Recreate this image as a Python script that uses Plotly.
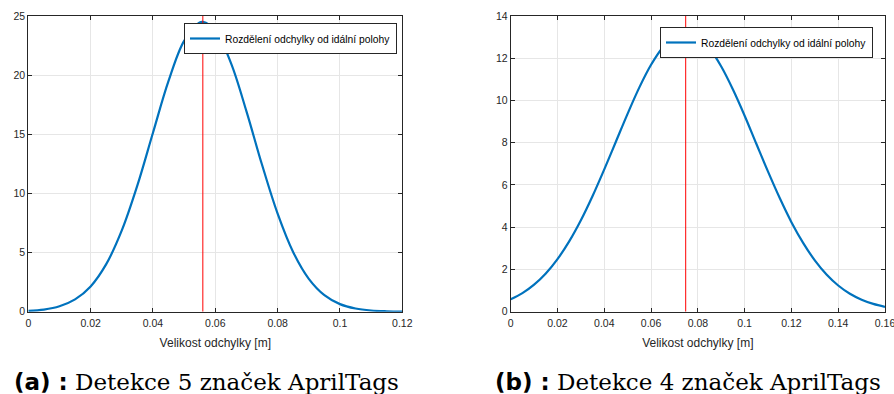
import plotly.graph_objects as go

# Panel (a): detection of 5 tags
x_a = [0.000, 0.005, 0.010, 0.015, 0.020, 0.025, 0.030, 0.035, 0.040, 0.045, 0.050, 0.055, 0.056, 0.060,
       0.065, 0.070, 0.075, 0.080, 0.085, 0.090, 0.095, 0.100, 0.105, 0.110, 0.115, 0.120]
y_a = [0.07, 0.18, 0.46, 1.04, 2.14, 4.02, 6.87, 10.68, 15.13, 19.51, 22.90, 24.45, 24.50, 23.77,
       21.04, 16.94, 12.42, 8.29, 5.03, 2.78, 1.40, 0.64, 0.27, 0.10, 0.035, 0.011]
mean_a = 0.056
ytop_a = 25

# Panel (b): detection of 4 tags
x_b = [0.000, 0.005, 0.010, 0.015, 0.020, 0.025, 0.030, 0.035, 0.040, 0.045, 0.050, 0.055, 0.060,
       0.065, 0.070, 0.075, 0.080, 0.085, 0.090, 0.095, 0.100, 0.105, 0.110, 0.115, 0.120,
       0.125, 0.130, 0.135, 0.140, 0.145, 0.150, 0.155, 0.160]
y_b = [0.59, 0.88, 1.28, 1.81, 2.49, 3.33, 4.33, 5.48, 6.74, 8.06, 9.38, 10.62, 11.69,
       12.51, 13.03, 13.20, 13.00, 12.46, 11.61, 10.52, 9.28, 7.95, 6.63, 5.38, 4.24,
       3.26, 2.43, 1.76, 1.24, 0.85, 0.57, 0.37, 0.23]
mean_b = 0.0748
ytop_b = 14

legend_name = "Rozdělení odchylky od idální polohy"
captions = ["(a) :", "(b) :"]
caption_texts = ["Detekce 5 značek AprilTags", "Detekce 4 značek AprilTags"]
xlabel = "Velikost odchylky [m]"

BLUE = "#0072BD"
AX = "#262626"
GRID = "#e6e6e6"
W, H = 894, 394

fig = go.Figure()
fig.add_trace(go.Scatter(x=x_a, y=y_a, mode="lines", name=legend_name, line=dict(color=BLUE, width=2.2, shape="spline"),
                         xaxis="x", yaxis="y", legend="legend"))
fig.add_trace(go.Scatter(x=[mean_a, mean_a], y=[0, ytop_a], mode="lines", showlegend=False,
                         line=dict(color="#ff0000", width=1), xaxis="x", yaxis="y"))
fig.add_trace(go.Scatter(x=x_b, y=y_b, mode="lines", name=legend_name, line=dict(color=BLUE, width=2.2, shape="spline"),
                         xaxis="x2", yaxis="y2", legend="legend2"))
fig.add_trace(go.Scatter(x=[mean_b, mean_b], y=[0, ytop_b], mode="lines", showlegend=False,
                         line=dict(color="#ff0000", width=1), xaxis="x2", yaxis="y2"))

def px_x(p):
    return p / W

def px_y(p):
    return (H - p) / H

tickfont = dict(family="Liberation Sans, Arial", size=10.5, color=AX)
axcommon = dict(showline=True, linecolor=AX, linewidth=1, mirror="ticks", ticks="inside", ticklen=4,
                tickcolor=AX, showgrid=True, gridcolor=GRID, gridwidth=1, zeroline=False, tickfont=tickfont,
                automargin=False, ticklabeloverflow="allow")
xtitle = dict(text=xlabel, font=dict(family="Liberation Sans, Arial", size=12, color=AX), standoff=10)

fig.update_layout(
    width=W, height=H, margin=dict(l=0, r=0, t=0, b=0),
    paper_bgcolor="white", plot_bgcolor="white",
    xaxis=dict(domain=[px_x(28.3), px_x(402.3)], range=[0, 0.12], dtick=0.02, anchor="y", title=xtitle,
               ticklabelstandoff=2, **axcommon),
    yaxis=dict(domain=[px_y(311.7), px_y(16)], range=[0, 25], dtick=5, anchor="x", **axcommon),
    xaxis2=dict(domain=[px_x(510.7), px_x(885)], range=[0, 0.16], dtick=0.02, anchor="y2", title=xtitle,
                ticklabelstandoff=2, **axcommon),
    yaxis2=dict(domain=[px_y(311.7), px_y(16)], range=[0, 14], dtick=2, anchor="x2", **axcommon),
    legend=dict(x=px_x(397), y=px_y(23), xanchor="right", yanchor="top", bgcolor="white",
                bordercolor=AX, borderwidth=1, font=dict(family="Liberation Sans, Arial", size=10.3, color="#000"),
                itemwidth=30, tracegroupgap=0),
    legend2=dict(x=px_x(873), y=px_y(27), xanchor="right", yanchor="top", bgcolor="white",
                 bordercolor=AX, borderwidth=1, font=dict(family="Liberation Sans, Arial", size=10.3, color="#000"),
                 itemwidth=30, tracegroupgap=0),
    showlegend=True,
)

cap_x = [px_x(206), px_x(688)]
for cx, lab, txt in zip(cap_x, captions, caption_texts):
    fig.add_annotation(
        x=cx, y=px_y(381.5), xref="paper", yref="paper", xanchor="center", yanchor="middle", showarrow=False,
        text=f"<span style='font-family:DejaVu Sans;font-weight:bold'>{lab}</span> {txt}",
        font=dict(family="DejaVu Serif", size=23, color="#000"),
    )

fig.write_html("out.html")
